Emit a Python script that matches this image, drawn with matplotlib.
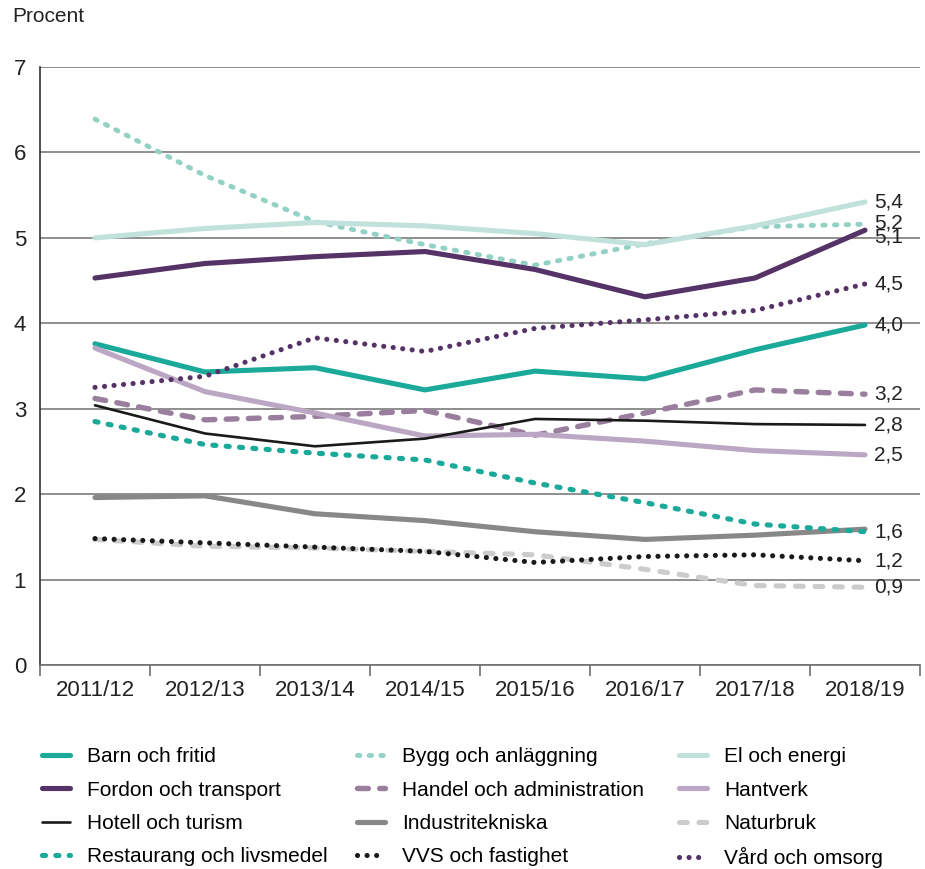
import matplotlib
matplotlib.use("Agg")
import matplotlib.pyplot as plt

plt.rcParams['font.family'] = ['Liberation Sans', 'DejaVu Sans']

years = ["2011/12", "2012/13", "2013/14", "2014/15", "2015/16", "2016/17", "2017/18", "2018/19"]

barn = [3.76, 3.43, 3.48, 3.22, 3.44, 3.35, 3.69, 3.98]
bygg = [6.39, 5.73, 5.19, 4.92, 4.68, 4.93, 5.13, 5.16]
el = [5.00, 5.11, 5.18, 5.14, 5.05, 4.92, 5.14, 5.42]
fordon = [4.53, 4.70, 4.78, 4.84, 4.63, 4.31, 4.53, 5.09]
handel = [3.12, 2.87, 2.91, 2.98, 2.69, 2.95, 3.22, 3.17]
hantverk = [3.71, 3.20, 2.95, 2.68, 2.70, 2.62, 2.51, 2.46]
hotell = [3.04, 2.71, 2.56, 2.65, 2.88, 2.86, 2.82, 2.81]
industri = [1.96, 1.98, 1.77, 1.69, 1.56, 1.47, 1.52, 1.59]
naturbruk = [1.47, 1.39, 1.37, 1.33, 1.29, 1.12, 0.93, 0.91]
restaurang = [2.85, 2.58, 2.48, 2.40, 2.13, 1.90, 1.65, 1.56]
vvs = [1.48, 1.43, 1.38, 1.33, 1.20, 1.27, 1.29, 1.22]
vard = [3.25, 3.38, 3.83, 3.67, 3.94, 4.04, 4.15, 4.46]

names = ["Barn och fritid", "Bygg och anläggning", "El och energi",
         "Fordon och transport", "Handel och administration", "Hantverk",
         "Hotell och turism", "Industritekniska", "Naturbruk",
         "Restaurang och livsmedel", "VVS och fastighet", "Vård och omsorg"]
series = [barn, bygg, el, fordon, handel, hantverk, hotell, industri, naturbruk,
          restaurang, vvs, vard]

dot = (0, (0.01, 1.85))
styles = [
    dict(color="#1BA99A", lw=3.7, ls="-"),
    dict(color="#93D1C4", lw=3.5, ls=(0, (0.5, 1.9))),
    dict(color="#C0E2DB", lw=3.7, ls="-"),
    dict(color="#553366", lw=3.7, ls="-"),
    dict(color="#9A7E9E", lw=3.9, ls=(0, (2.0, 2.1))),
    dict(color="#BBA7C3", lw=3.7, ls="-"),
    dict(color="#1A1A1A", lw=1.9, ls="-"),
    dict(color="#888888", lw=3.7, ls="-"),
    dict(color="#CCCCCC", lw=3.7, ls=(0, (1.5, 2.3))),
    dict(color="#1BA99A", lw=3.7, ls=(0, (0.6, 2.0))),
    dict(color="#1A1A1A", lw=3.7, ls=dot),
    dict(color="#553366", lw=3.7, ls=dot),
]

fig = plt.figure(figsize=(9.25, 8.69), dpi=100)
ax = fig.add_axes([40/925, 1-665/869, 880/925, (665-67)/869])

x = list(range(len(years)))
handles = []
for s, st in zip(series, styles):
    ln, = ax.plot(x, s, color=st["color"], lw=st["lw"], linestyle=st["ls"],
                  solid_capstyle="round", dash_capstyle="round", zorder=3)
    handles.append(ln)

# end-value labels (all series except Industritekniska, which shares 1,6 with Restaurang)
offs = {1: 0.5, 3: -5}
for i, s in enumerate(series):
    if names[i] == "Industritekniska":
        continue
    txt = f"{s[-1]:.1f}".replace(".", ",")
    ax.annotate(txt, (x[-1], s[-1]), xytext=(6.5, offs.get(i, 0)),
                textcoords="offset points", va="center", ha="left",
                fontsize=15, color="#222222", zorder=5)

ax.set_xlim(-0.5, 7.5)
ax.set_ylim(0, 7)
ax.set_yticks(range(0, 8))
ax.yaxis.grid(True, color="#707070", lw=1.1, zorder=0)
ax.set_axisbelow(True)
ax.tick_params(axis="y", length=0, pad=10, labelsize=16, labelcolor="#222222")
ax.set_xticks(x)
ax.set_xticklabels(years)
ax.set_xticks([i - 0.5 for i in range(len(years) + 1)], minor=True)
ax.tick_params(axis="x", which="major", length=0, pad=11, labelsize=16, labelcolor="#222222")
ax.tick_params(axis="x", which="minor", length=8, width=1.2, color="#707070")
for sp in ("top", "right"):
    ax.spines[sp].set_visible(False)
ax.spines["left"].set_color("#333333")
ax.spines["left"].set_linewidth(1.2)
ax.spines["bottom"].set_color("#707070")
ax.spines["bottom"].set_linewidth(1.2)

fig.text(12/925, 1-17/869, "Procent", fontsize=15, va="center", ha="left", color="#222222")

col_x = [36/925, 351/925, 673/925]
for c in range(3):
    idx = list(range(c, 12, 3))
    fig.legend([handles[i] for i in idx], [names[i] for i in idx],
               loc="upper left", bbox_to_anchor=(col_x[c], 1-741/869),
               frameon=False, fontsize=15, handlelength=1.35, handletextpad=0.8,
               labelspacing=0.69, borderaxespad=0, borderpad=0.3)

fig.savefig("out.png", dpi=100)
